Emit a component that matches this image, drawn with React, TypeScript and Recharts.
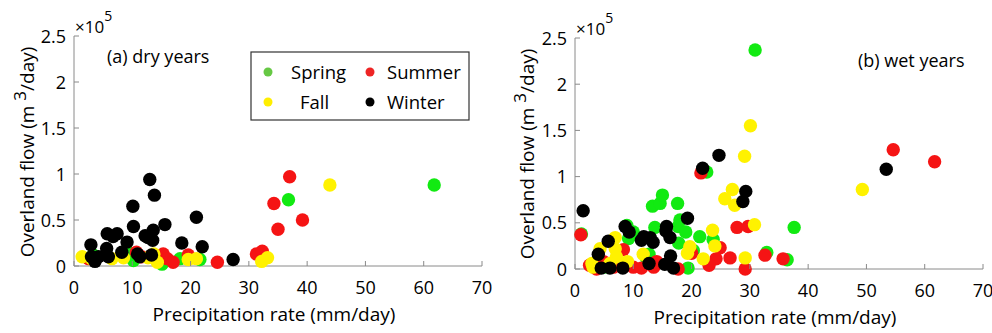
import React from "react";
import { ScatterChart, Scatter, XAxis, YAxis } from "recharts";

// precipitation (mm/day), overland flow (x10^5 m3/day)
const drySpring = [
  [3.3, 0.12], [9.0, 0.17], [10.2, 0.06], [15.1, 0.02], [18.2, 0.08], [21.6, 0.07], [36.8, 0.72], [61.8, 0.88],
];
const drySummer = [
  [2.5, 0.08], [10.7, 0.15], [11.6, 0.1], [15.3, 0.13], [16.0, 0.08], [17.0, 0.04], [19.6, 0.12], [24.6, 0.04],
  [31.3, 0.13], [32.3, 0.16], [34.3, 0.68], [35.0, 0.4], [37.0, 0.97], [39.2, 0.5],
];
const dryFall = [
  [1.4, 0.1], [3.0, 0.08], [6.5, 0.08], [8.5, 0.09], [12.7, 0.09], [13.7, 0.13], [14.3, 0.04], [19.6, 0.07],
  [21.0, 0.08], [32.2, 0.05], [33.2, 0.09], [43.9, 0.88],
];
const dryWinter = [
  [2.9, 0.23], [3.0, 0.1], [3.6, 0.05], [4.2, 0.1], [5.6, 0.19], [5.9, 0.1], [5.7, 0.35], [6.7, 0.32],
  [7.4, 0.35], [8.2, 0.15], [9.1, 0.26], [10.1, 0.65], [10.2, 0.43], [10.9, 0.13], [11.3, 0.1], [12.2, 0.33],
  [12.7, 0.31], [13.0, 0.94], [13.3, 0.12], [13.6, 0.39], [13.5, 0.28], [13.8, 0.77], [15.6, 0.45], [18.5, 0.25],
  [21.0, 0.53], [22.0, 0.21], [27.3, 0.07],
];

const wetSpring = [
  [30.9, 2.37], [37.6, 0.45], [32.9, 0.18], [36.4, 0.1], [22.6, 1.05], [13.3, 0.68], [14.6, 0.71], [15.0, 0.8],
  [17.6, 0.71], [18.0, 0.53], [17.7, 0.46], [19.0, 0.4], [13.7, 0.45], [21.4, 0.35], [17.8, 0.28], [20.3, 0.2],
  [23.7, 0.32], [19.4, 0.01], [8.9, 0.47], [9.2, 0.33], [10.0, 0.4], [1.1, 0.38], [12.3, 0.11], [12.7, 0.16],
  [4.9, 0.02],
];
const wetSummer = [
  [54.6, 1.29], [61.7, 1.16], [21.6, 1.04], [27.8, 0.45], [29.7, 0.46], [24.9, 0.23], [26.6, 0.12], [29.2, 0.0],
  [32.6, 0.15], [35.7, 0.11], [24.2, 0.11], [23.0, 0.04], [1.0, 0.37], [2.5, 0.04], [3.7, 0.0], [8.3, 0.21],
  [10.0, 0.02], [11.4, 0.01], [13.5, 0.02], [14.0, 0.08], [17.7, 0.0], [20.0, 0.17], [6.6, 0.02], [4.9, 0.08],
];
const wetFall = [
  [30.1, 1.55], [29.1, 1.22], [49.3, 0.86], [27.0, 0.86], [25.7, 0.76], [27.4, 0.69], [30.8, 0.48], [23.6, 0.42],
  [24.0, 0.25], [22.0, 0.11], [29.2, 0.12], [19.7, 0.24], [19.3, 0.17], [6.9, 0.34], [6.9, 0.22], [7.1, 0.13],
  [4.3, 0.22], [2.9, 0.06], [3.1, 0.02], [9.0, 0.08], [11.7, 0.16], [6.0, 0.06],
];
const wetWinter = [
  [53.4, 1.08], [24.7, 1.23], [21.9, 1.09], [29.3, 0.84], [28.8, 0.73], [19.3, 0.55], [1.4, 0.63], [8.6, 0.46],
  [9.3, 0.4], [11.4, 0.31], [11.8, 0.35], [12.9, 0.34], [13.4, 0.29], [15.7, 0.46], [15.6, 0.41], [16.3, 0.34],
  [5.7, 0.3], [4.0, 0.16], [16.4, 0.14], [12.7, 0.06], [15.4, 0.05], [16.9, 0.01], [4.5, 0.01], [6.0, 0.01],
  [8.2, 0.01],
];

const xTicks = [0, 10, 20, 30, 40, 50, 60, 70];
const yTicks = [0, 0.5, 1, 1.5, 2, 2.5];
const yTickLabels = ["0", "0.5", "1", "1.5", "2", "2.5"];

const seasons = ["Spring", "Summer", "Fall", "Winter"];
const dotColors = ["#12ea12", "#f51414", "#fff200", "#000000"];
const legendColors = ["#66c844", "#ee2424", "#ffee00", "#000000"];

const AXIS = "#8a8a8a";
const FONT = "'Open Sans', sans-serif";

const toPoints = (arr: number[][]) => arr.map(([x, y]) => ({ x, y }));

const XTick = (props: any) => {
  const { x, y, payload } = props;
  return (
    <g>
      <line x1={x} x2={x} y1={y} y2={y - 5} stroke={AXIS} />
      <text x={x} y={y + 28} textAnchor="middle" fontSize={18} fill="#000" fontFamily={FONT}>
        {payload.value}
      </text>
    </g>
  );
};

const YTick = (props: any) => {
  const { x, y, payload } = props;
  const i = yTicks.indexOf(payload.value);
  return (
    <g>
      <line x1={x} x2={x + 5} y1={y} y2={y} stroke={AXIS} />
      <text x={x - 8} y={y + 6.5} textAnchor="end" fontSize={18} fill="#000" fontFamily={FONT}>
        {yTickLabels[i] ?? payload.value}
      </text>
    </g>
  );
};

const dot = (color: string) => (p: any) => <circle cx={p.cx} cy={p.cy} r={6.7} fill={color} />;

const Panel = ({ series, margin }: { series: number[][][]; margin: any }) => (
  <ScatterChart width={496} height={333} margin={margin}>
    <XAxis
      type="number"
      dataKey="x"
      domain={[0, 70]}
      ticks={xTicks}
      interval={0}
      height={30}
      stroke={AXIS}
      tickSize={0}
      tickMargin={0}
      tickLine={false}
      tick={<XTick />}
    />
    <YAxis
      type="number"
      dataKey="y"
      domain={[0, 2.5]}
      ticks={yTicks}
      interval={0}
      width={40}
      stroke={AXIS}
      tickSize={0}
      tickMargin={0}
      tickLine={false}
      tick={<YTick />}
    />
    {series.map((s, i) => (
      <Scatter key={seasons[i]} data={toPoints(s)} shape={dot(dotColors[i])} isAnimationActive={false} />
    ))}
  </ScatterChart>
);

const YLabel = ({ cx, cy }: { cx: number; cy: number }) => (
  <text transform={`translate(${cx},${cy}) rotate(-90)`} textAnchor="middle" fontSize={19} fontFamily={FONT} dominantBaseline="central">
    Overland flow (m <tspan dy={-8} fontSize={17}>3</tspan>
    <tspan dy={8}>/day)</tspan>
  </text>
);

const Exponent = ({ x, y }: { x: number; y: number }) => (
  <text x={x} y={y} fontSize={17} fontFamily={FONT}>
    ×10<tspan dy={-12} fontSize={14}>5</tspan>
  </text>
);

export default function App() {
  return (
    <div style={{ position: "absolute", left: 0, top: 0, width: 992, height: 333, background: "#fff" }}>
      <div style={{ position: "absolute", left: 0, top: 0 }}>
        <Panel series={[drySpring, drySummer, dryFall, dryWinter]} margin={{ top: 36, right: 14, bottom: 37, left: 34 }} />
      </div>
      <div style={{ position: "absolute", left: 496, top: 0 }}>
        <Panel series={[wetSpring, wetSummer, wetFall, wetWinter]} margin={{ top: 38, right: 9, bottom: 34, left: 39 }} />
      </div>
      <svg width={992} height={333} style={{ position: "absolute", left: 0, top: 0, pointerEvents: "none" }}>
        <Exponent x={75} y={33} />
        <Exponent x={576} y={35} />
        <YLabel cx={27} cy={152} />
        <YLabel cx={527} cy={154} />
        <text x={274} y={321} textAnchor="middle" fontSize={19} fontFamily={FONT}>Precipitation rate (mm/day)</text>
        <text x={775} y={324} textAnchor="middle" fontSize={19} fontFamily={FONT}>Precipitation rate (mm/day)</text>
        <text x={107} y={63} fontSize={18} fontFamily={FONT}>(a) dry years</text>
        <text x={858} y={67} fontSize={18} fontFamily={FONT}>(b) wet years</text>
        <rect x={251} y={52} width={218} height={68} fill="#fff" stroke="#333" strokeWidth={1.2} />
        {seasons.map((s, i) => {
          const col = i % 2;
          const row = Math.floor(i / 2);
          const dx = col === 0 ? 268 : 370;
          const dy = row === 0 ? 72 : 102;
          const tx = col === 0 ? (row === 0 ? 291 : 300) : 387;
          return (
            <g key={s}>
              <circle cx={dx} cy={dy} r={4.5} fill={legendColors[i]} />
              <text x={tx} y={dy + 6.5} fontSize={18.5} fontFamily={FONT}>{s}</text>
            </g>
          );
        })}
      </svg>
    </div>
  );
}
